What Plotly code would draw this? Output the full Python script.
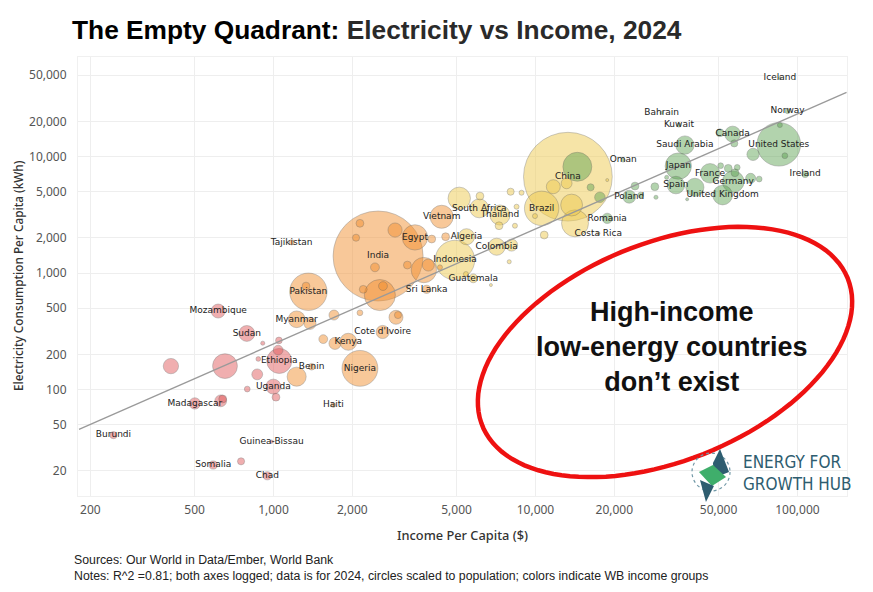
import numpy as np
import plotly.graph_objects as go

# ---- data (income $ per capita, electricity kWh per capita, population M) ----
names = [
    "Mozambique", "Sudan", "", "", "Ethiopia", "", "", "", "", "", "Uganda", "", "",
    "Madagascar", "", "", "Burundi", "Guinea-Bissau", "Somalia", "", "Chad",
    "Tajikistan", "India", "Pakistan", "", "", "", "", "", "", "", "Sri Lanka", "Egypt",
    "", "", "", "", "", "", "", "Vietnam", "", "", "", "", "Myanmar", "", "Cote d'Ivoire",
    "Kenya", "", "", "Nigeria", "Benin", "", "Haiti",
    "China", "Indonesia", "Algeria", "South Africa", "", "Thailand", "", "", "", "", "", "",
    "Colombia", "", "", "Guatemala", "", "", "Brazil", "", "", "", "", "", "", "", "Costa Rica",
    "", "", "", "Romania", "Oman", "Poland", "", "", "", "", "Saudi Arabia", "Kuwait", "Bahrain",
    "Japan", "", "Spain", "", "France", "United Kingdom", "Germany", "", "", "", "", "", "", "",
    "Canada", "", "", "United States", "", "", "", "Norway", "Iceland", "Ireland",
]
income = [
    615, 791, 653, 406, 1052, 1042, 1049, 910, 875, 867, 999, 1022, 794,
    501, 629, 640, 245, 984, 589, 752, 947,
    1173, 2508, 1359, 1331, 2547, 2201, 2618, 3750, 3900, 4320, 3843, 3467,
    2911, 2138, 2066, 2440, 3244, 4018, 4540, 4385, 1702, 2138, 2935, 2987, 1226, 1378, 2610,
    1930, 1717, 1549, 2138, 1399, 1226, 1692,
    13300, 4928, 5456, 6103, 5118, 7320, 6140, 8040, 8850, 8470, 8350, 7260,
    7112, 8110, 7940, 5790, 6760, 5428, 10560, 11700, 13150, 13740, 14160, 10800, 9960, 18790, 17370,
    14450, 16240, 17620, 18790, 21620, 22800, 23990, 25210, 28560, 28840, 37200, 35300, 30320,
    35100, 31680, 34370, 40600, 46400, 51820, 56870, 57740, 54440, 50930, 58900, 66280, 71450, 37930,
    56580, 50600, 57400, 84900, 67700, 89550, 85700, 91750, 85700, 107000,
]
electricity = [
    472, 303, 159, 159, 176, 218, 264, 250, 183, 135, 106, 86, 101,
    76, 80, 83, 40.6, 35.7, 22.5, 24.2, 18.2,
    1836, 1400, 691, 773, 647, 725, 773, 1061, 1171, 1119, 725, 2023,
    2339, 2672, 2010, 1119, 1171, 1958, 2050, 3041, 436, 456, 417, 436, 401, 370, 312,
    257, 249, 271, 152, 157, 129, 73.6,
    6714, 1293, 2050, 3591, 4375, 3148, 4580, 4990, 4890, 3710, 2547, 2547,
    1682, 1738, 1250, 901, 789, 980, 3591, 5510, 5890, 3834, 2671, 2120, 3084, 6280, 2192,
    8170, 5443, 4470, 2948, 9330, 4520, 5580, 4670, 5510, 4470, 12550, 18620, 23770,
    8280, 6620, 5690, 5440, 7180, 4670, 6080, 7260, 7920, 8340, 8070, 6500, 6410, 4295,
    15590, 15990, 12970, 12730, 10440, 10160, 18620, 24580, 47200, 7050,
]
population = [
    35, 45, 110, 42, 112, 17, 8, 3, 4, 21, 40, 11, 6,
    23, 25, 11, 9, 2, 12, 9, 12,
    5, 1450, 250, 11, 173, 11, 14, 115, 26, 4.5, 12, 115,
    36, 11, 9, 14, 11, 11, 11, 95, 18, 6, 35, 9, 50, 26, 31,
    52, 26, 14, 230, 8, 65, 4,
    1410, 280, 46, 64, 90, 72, 11, 9, 4.5, 4.5, 4.5, 11,
    52, 26, 3, 14, 1.6, 4.5, 212, 35, 21, 85, 130, 11, 4.5, 1.6, 2,
    150, 9, 20, 19, 3, 30, 11, 6, 11, 3, 60, 3, 1.5,
    124, 3, 55, 59, 68, 69, 84, 11, 11, 6, 6, 18, 6, 1.6,
    45, 11, 9, 340, 27, 6, 4.5, 5, 0.4, 8,
]
income_group = (["Low income"] * 21 + ["Lower middle income"] * 34
                + ["Upper middle income"] * 27 + ["High income"] * 37)

trend_x = [181, 154000]
trend_y = [45.5, 35500]

x_ticks = [200, 500, 1000, 2000, 5000, 10000, 20000, 50000, 100000]
y_ticks = [20, 50, 100, 200, 500, 1000, 2000, 5000, 10000, 20000, 50000]

group_colors = {
    "Low income": "rgba(225,87,89,0.68)",
    "Lower middle income": "rgba(242,142,43,0.68)",
    "Upper middle income": "rgba(237,201,72,0.68)",
    "High income": "rgba(89,161,79,0.66)",
}

# plot area in pixels (used for annotations / drawn shapes)
L, R, T, B = 78, 847, 57, 496


def px(x):
    return (x - L) / (R - L)


def py(y):
    return (B - y) / (B - T)


order = np.argsort(population)[::-1]
xs = [income[i] for i in order]
ys = [electricity[i] for i in order]
sz = [population[i] for i in order]
cols = [group_colors[income_group[i]] for i in order]

fig = go.Figure()
fig.add_trace(go.Scatter(
    x=xs, y=ys, mode="markers", hoverinfo="skip",
    marker=dict(size=sz, sizemode="area", sizeref=2 * max(population) / 90 ** 2,
                sizemin=1.5, color=cols,
                line=dict(color="rgba(90,90,90,0.55)", width=0.8)),
))
fig.add_trace(go.Scatter(
    x=trend_x, y=trend_y, mode="lines", hoverinfo="skip",
    line=dict(color="#9a9a9a", width=1.3),
))
fig.add_trace(go.Scatter(
    x=income, y=electricity, mode="text", text=names, textposition="middle center",
    textfont=dict(family="DejaVu Sans", size=9, color="#222222"),
    hoverinfo="skip", cliponaxis=False,
))

# red ellipse around the empty corner
cx, cy, a, b, tilt = 665, 352, 197, 109, np.radians(22)
t = np.linspace(0, 2 * np.pi, 120)
ex = cx + a * np.cos(t) * np.cos(tilt) + b * np.sin(t) * np.sin(tilt)
ey = cy - a * np.cos(t) * np.sin(tilt) + b * np.sin(t) * np.cos(tilt)
ell = "M " + " L ".join(f"{px(u):.4f},{py(v):.4f}" for u, v in zip(ex, ey)) + " Z"

shapes = [dict(type="path", xref="paper", yref="paper", path=ell,
               line=dict(color="#ee1111", width=4.5))]


def poly(pts, fill):
    p = "M " + " L ".join(f"{px(u):.4f},{py(v):.4f}" for u, v in pts) + " Z"
    return dict(type="path", xref="paper", yref="paper", path=p,
                fillcolor=fill, line=dict(width=0))


# logo mark
shapes.append(dict(type="circle", xref="paper", yref="paper",
                   x0=px(692), x1=px(730), y0=py(491), y1=py(453),
                   line=dict(color="#6f97a6", width=1.2, dash="dot")))
shapes.append(poly([(720, 449), (729, 472), (714, 478), (713, 463)], "#2e5d70"))
shapes.append(poly([(699, 472), (713, 465), (726, 477), (712, 486)], "#3fae6b"))
shapes.append(poly([(700, 480), (714, 486), (706, 502)], "#2e5d70"))


def note(text, x, y, size, **kw):
    d = dict(text=text, x=px(x), y=py(y), xref="paper", yref="paper", showarrow=False,
             xanchor="center", yanchor="middle")
    d.update(kw)
    d["font"] = dict(size=size, **d.get("font", {}))
    return d


annotations = [
    note("<b>High-income<br>low-energy countries<br>don\u2019t exist</b>", 672, 347, 27,
         font=dict(family="Liberation Sans, Arial", color="#111111")),
    note("ENERGY FOR<br>GROWTH HUB", 741, 473, 17, xanchor="left", align="left",
         font=dict(family="Liberation Sans Narrow, DejaVu Sans Condensed", color="#2e5d70")),
    note("Electricity Consumption Per Capita (kWh)", 18, 276, 11.8, textangle=-90,
         font=dict(family="Noto Sans", color="#333333", weight=500)),
    note("Income Per Capita ($)", 462, 535, 12.8,
         font=dict(family="Noto Sans", color="#333333", weight=500)),
    note("Sources: Our World in Data/Ember, World Bank<br>"
         "Notes: R^2 =0.81; both axes logged; data is for 2024, circles scaled to population; "
         "colors indicate WB income groups", 72, 568, 12.3, xanchor="left", align="left",
         font=dict(family="Liberation Sans, Arial", color="#222222")),
]

axis_style = dict(type="log", showgrid=True, gridcolor="#eeeeee", gridwidth=1, zeroline=False,
                  showline=True, linecolor="#f0f0f0", mirror=True, ticks="",
                  tickfont=dict(family="Noto Sans", size=12, color="#555555"))

fig.update_layout(
    width=873, height=592,
    margin=dict(l=L, r=873 - R, t=T, b=592 - B),
    paper_bgcolor="white", plot_bgcolor="white", showlegend=False,
    title=dict(text="<b>The Empty Quadrant:</b> <b><span style='color:#2a2a2a'>Electricity vs Income, 2024</span></b>",
               x=72 / 873, xanchor="left", xref="container", y=1 - 30 / 592, yanchor="middle",
               font=dict(family="Liberation Sans, Arial", size=26.3, color="#000000")),
    xaxis=dict(axis_style, range=[np.log10(179.4), np.log10(154600)], tickvals=x_ticks,
               ticktext=[f"{v:,}" for v in x_ticks], ticklabelstandoff=3),
    yaxis=dict(axis_style, range=[np.log10(12.2), np.log10(71500)], tickvals=y_ticks,
               ticktext=[f"{v:,}" for v in y_ticks], ticklabelstandoff=8),
    shapes=shapes, annotations=annotations,
)

fig.write_html("out.html", config={"displayModeBar": False},
               post_script="document.body.style.margin='0';")
